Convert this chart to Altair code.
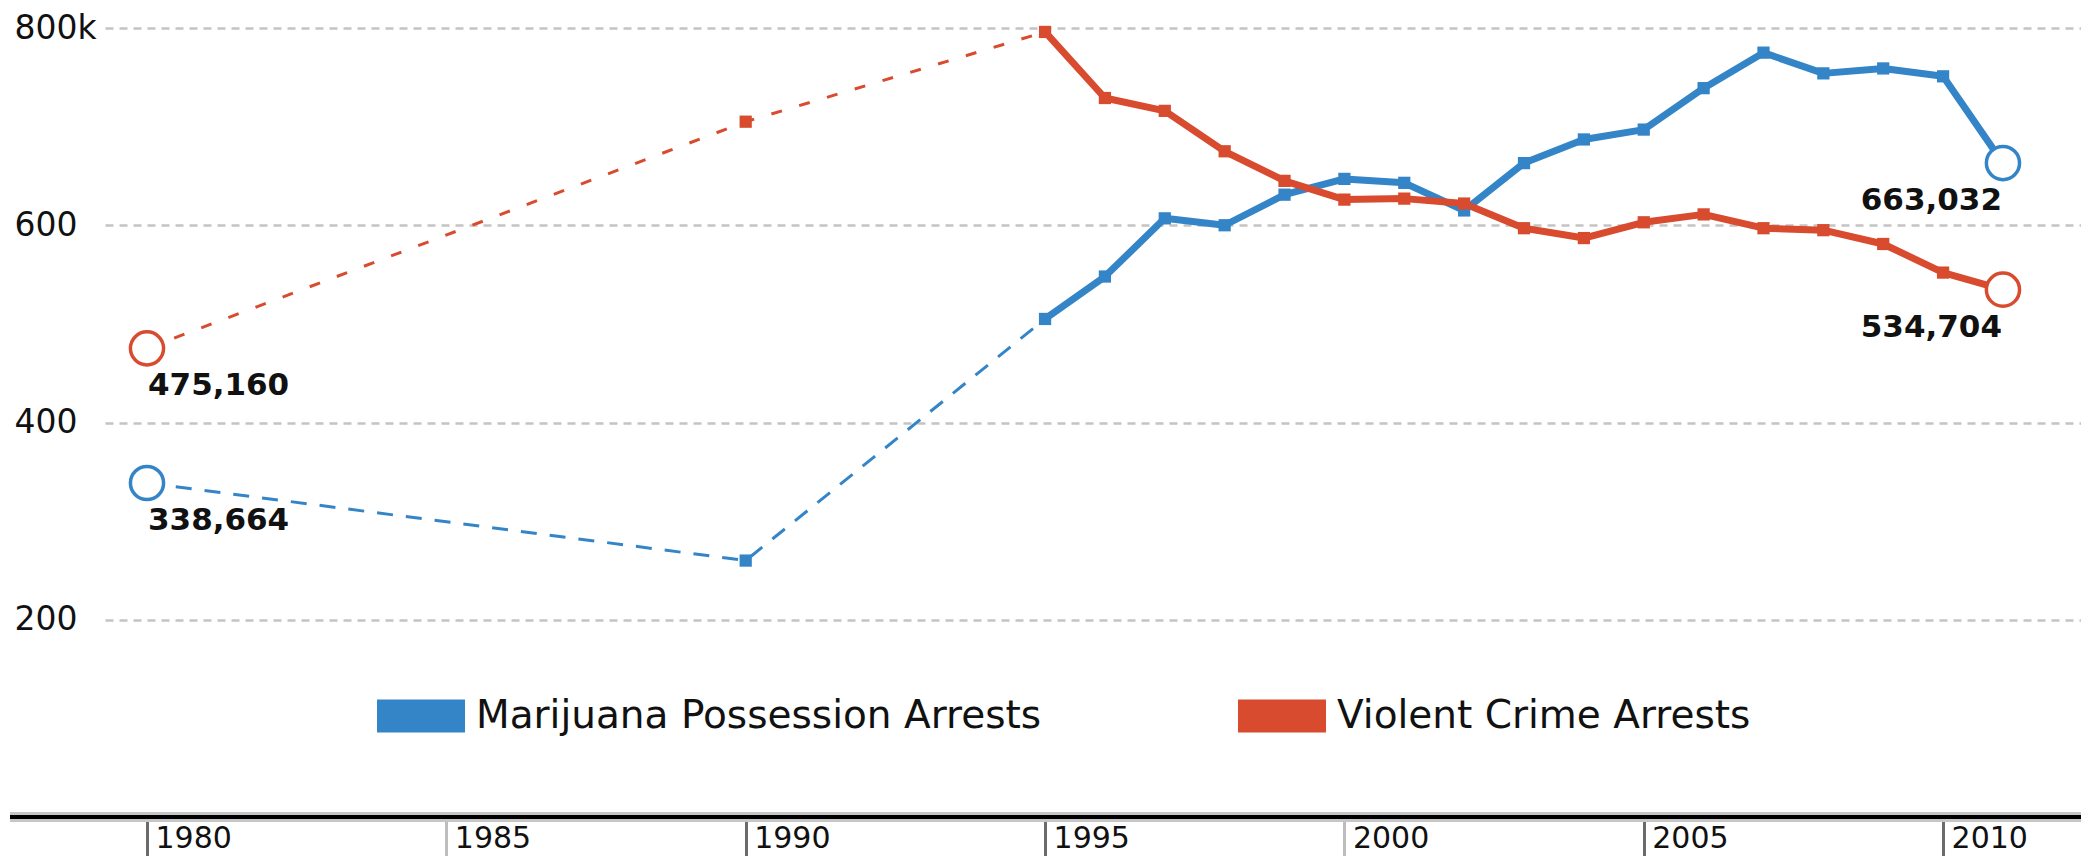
import altair as alt
import pandas as pd

# ---------------- data ----------------
series_names = ["Marijuana Possession Arrests", "Violent Crime Arrests"]
series_colors = ["#3485C7", "#D84B2E"]
series_dashes = [[16, 13], [11, 18]]

early_years = [1980, 1990, 1995]
late_years = [1995, 1996, 1997, 1998, 1999, 2000, 2001, 2002, 2003,
              2004, 2005, 2006, 2007, 2008, 2009, 2010, 2011]

marijuana_early = [338664, 260000, 505000]
marijuana_late = [505000, 548000, 607000, 600000, 631000, 647000, 643000,
                  615000, 663000, 687000, 697000, 739000, 775000, 754000,
                  759000, 751000, 663032]

violent_early = [475160, 705000, 796000]
violent_late = [796000, 729000, 716000, 675000, 645000, 626000, 627000,
                622000, 597000, 587000, 603000, 611000, 597000, 595000,
                581000, 552000, 534704]

x_ticks = [1980, 1985, 1990, 1995, 2000, 2005, 2010]
y_ticks = [200000, 400000, 600000, 800000]
y_tick_labels = ["200", "400", "600", "800k"]

# ---------------- tables ----------------
def rows(name, years, values):
    return [{"series": name, "year": y, "value": v} for y, v in zip(years, values)]

early_df = pd.DataFrame(rows(series_names[0], early_years, marijuana_early)
                        + rows(series_names[1], early_years, violent_early))
late_df = pd.DataFrame(rows(series_names[0], late_years, marijuana_late)
                       + rows(series_names[1], late_years, violent_late))
all_df = pd.concat([early_df, late_df]).drop_duplicates(["series", "year"])
first_year = min(early_years)
last_year = max(late_years)
marker_df = all_df[(all_df.year != first_year) & (all_df.year != last_year)]
start_df = all_df[all_df.year == first_year]
end_df = all_df[all_df.year == last_year]

# ---------------- layout ----------------
W = 1976
H = 789

label_expr = " : ".join(
    f"datum.value == {v} ? '{t}'" for v, t in zip(y_ticks, y_tick_labels)
) + " : ''"

x_enc = alt.X(
    "year:Q",
    scale=alt.Scale(domain=[1979.2985, 2012.3035], nice=False, zero=False),
    axis=alt.Axis(
        values=x_ticks, format="d", title=None, domain=False, grid=False,
        ticks=True, tickSize=39, tickWidth=3,
        tickColor={"condition": {"test": "datum.value == 1985 || datum.value == 2000",
                                 "value": "#bdbdbd"},
                   "value": "#6b6b6b"},
        labelAlign="left", labelOffset=8, labelBaseline="top", labelPadding=-33,
        labelFont="DejaVu Sans", labelFontSize=30, labelColor="#111111",
        labelFlush=False, labelOverlap=False,
    ),
)
y_enc = alt.Y(
    "value:Q",
    scale=alt.Scale(domain=[0, 800000], nice=False, zero=True),
    axis=alt.Axis(
        values=y_ticks, labelExpr=label_expr, title=None, domain=False,
        ticks=False, tickSize=0, labelAlign="left", labelBaseline="middle",
        labelPadding=91, labelFont="DejaVu Sans", labelFontSize=33,
        labelColor="#111111", grid=True, gridColor="#c4c4c4",
        gridDash=[8, 6], gridWidth=2.5,
    ),
)
color_scale = alt.Scale(domain=series_names, range=series_colors)

legend = alt.Legend(
    title=None, orient="none", legendX=272, legendY=644, direction="horizontal",
    symbolType="M-1,-0.375H1V0.375H-1Z", symbolSize=7744, symbolStrokeWidth=0,
    symbolOpacity=1, labelFont="DejaVu Sans", labelFontSize=39,
    labelColor="#111111", labelOffset=11, columnPadding=196, labelLimit=2000,
)

# axis base line (style only)
base_df = pd.DataFrame({"value": [0]})
axis_gray = alt.Chart(base_df).mark_rule(color="#c6c6c6", strokeWidth=10).encode(
    y=y_enc, x=alt.value(-95), x2=alt.value(W))
axis_black = alt.Chart(base_df).mark_rule(color="#000000", strokeWidth=4).encode(
    y=y_enc, x=alt.value(-95), x2=alt.value(W))

dashed = alt.Chart(early_df).mark_line(strokeWidth=3).encode(
    x=x_enc, y=y_enc,
    color=alt.Color("series:N", scale=color_scale, legend=None),
    strokeDash=alt.StrokeDash("series:N",
                              scale=alt.Scale(domain=series_names, range=series_dashes),
                              legend=None),
    detail="series:N", order="year:Q")

solid = alt.Chart(late_df).mark_line(strokeWidth=7, strokeJoin="round").encode(
    x=x_enc, y=y_enc, color=alt.Color("series:N", scale=color_scale, legend=None),
    detail="series:N", order="year:Q")

markers = alt.Chart(marker_df).mark_point(filled=True, shape="square", size=150, opacity=1).encode(
    x=x_enc, y=y_enc, color=alt.Color("series:N", scale=color_scale, legend=legend))

ends = alt.Chart(pd.concat([start_df, end_df])).mark_point(
    shape="circle", filled=False, fill="white", fillOpacity=1, size=1100,
    strokeWidth=3.5, opacity=1).encode(
    x=x_enc, y=y_enc, color=alt.Color("series:N", scale=color_scale, legend=None))

start_labels = alt.Chart(start_df).mark_text(
    align="left", baseline="alphabetic", dx=1, dy=47, font="DejaVu Sans",
    fontWeight="bold", fontSize=31, color="#111111").encode(
    x=x_enc, y=y_enc, text=alt.Text("value:Q", format=",d"))

end_labels = alt.Chart(end_df).mark_text(
    align="right", baseline="alphabetic", dx=-1, dy=47, font="DejaVu Sans",
    fontWeight="bold", fontSize=31, color="#111111").encode(
    x=x_enc, y=y_enc, text=alt.Text("value:Q", format=",d"))

chart = alt.layer(
    axis_gray, axis_black, dashed, solid, markers, ends, start_labels, end_labels
).resolve_legend(
    color="independent", strokeDash="independent"
).properties(
    width=W, height=H,
    autosize=alt.AutoSizeParams(type="none"),
    padding={"left": 97, "top": 20, "right": 0, "bottom": 39},
    background="white",
).configure_view(stroke=None)

chart.save("out.html", embed_options={"renderer": "svg", "actions": False})
